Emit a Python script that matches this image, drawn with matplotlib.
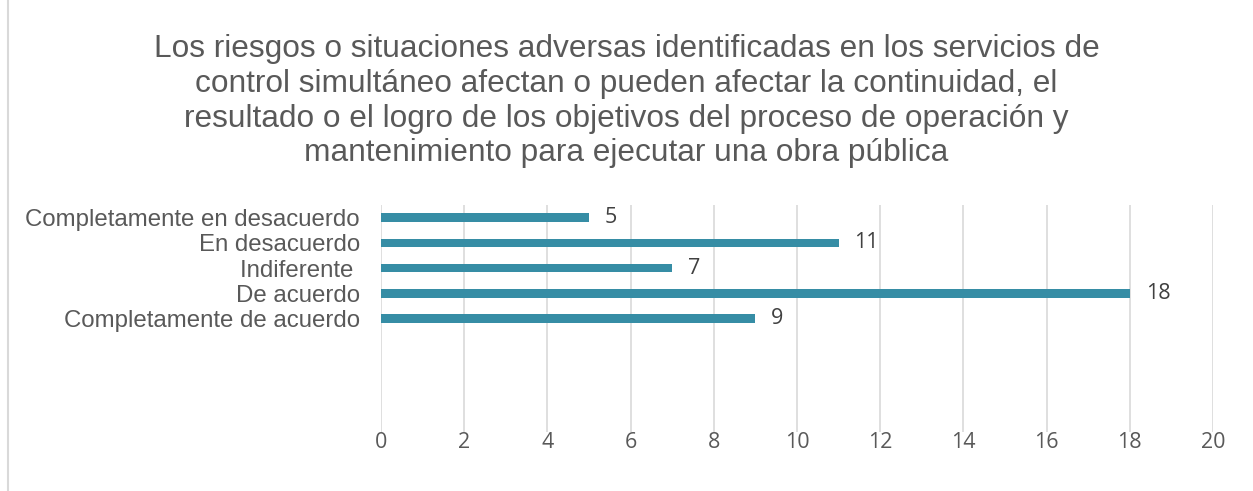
import numpy as np
import matplotlib.pyplot as plt
from matplotlib.lines import Line2D

# Data
categorias = ['Completamente en desacuerdo', 'En desacuerdo', 'Indiferente ',
              'De acuerdo', 'Completamente de acuerdo']
valores = [5, 11, 7, 18, 9]
n_slots = 9  # the axis has room for more rows than there are answers

titulo = ('Los riesgos o situaciones adversas identificadas en los servicios de\n'
          'control simultáneo afectan o pueden afectar la continuidad, el\n'
          'resultado o el logro de los objetivos del proceso de operación y\n'
          'mantenimiento para ejecutar una obra pública')

gris = '#595959'
color_barra = '#368DA5'

fig = plt.figure(figsize=(12.53, 4.91), dpi=100)
ax = fig.add_axes([0.304, 0.120, 0.664, 0.4623])

y = np.arange(len(categorias))
ax.barh(y, valores, height=0.34, color=color_barra, zorder=3)
ax.set_ylim(n_slots - 0.5, -0.5)
ax.set_xlim(0, 20)
ax.set_xticks(np.arange(0, 21, 2))
ax.set_yticks(y)
ax.set_yticklabels(categorias, family='Liberation Sans', fontsize=17.3, color=gris)
ax.tick_params(axis='y', length=0, pad=15)
ax.tick_params(axis='x', length=0, pad=0, labelsize=15.5, labelcolor=gris)
for lab in ax.get_xticklabels():
    lab.set_family('Open Sans')

ax.grid(axis='x', color='#d9d9d9', linewidth=1.2, zorder=0)
for s in ax.spines.values():
    s.set_visible(False)

for yi, v in zip(y, valores):
    ax.annotate(str(v), (v, yi), xytext=(11.5, 0), textcoords='offset points',
                ha='left', va='center', fontsize=15.5, color='#404040',
                family='Open Sans')

fig.text(0.5, 0.93, titulo, ha='center', va='top', fontsize=22.8,
         family='Liberation Sans', color=gris, linespacing=1.2)

# chart frame edge on the left
fig.add_artist(Line2D([8 / 1253, 8 / 1253], [0, 1], color='#d9d9d9', linewidth=1.5))

fig.savefig('out.png', dpi=100)
